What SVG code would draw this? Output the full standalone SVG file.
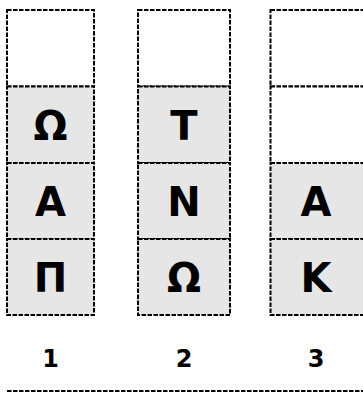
<svg xmlns="http://www.w3.org/2000/svg" width="363" height="396" viewBox="0 0 363 396">
<style>
.cell{stroke:#000;stroke-width:2;stroke-dasharray:4.5 1.5}
.full{fill:#e6e6e6}
.empty{fill:#fff}
.ch{font-family:"DejaVu Sans",sans-serif;font-weight:bold;font-size:40px;text-anchor:middle;fill:#000}
.lb{font-family:"DejaVu Sans",sans-serif;font-weight:bold;font-size:24px;text-anchor:middle;fill:#000}
</style>
<rect width="363" height="396" fill="#fff"/>
<g id="stack1">
<rect class="cell empty" x="7" y="10" width="87" height="76.5"/>
<rect class="cell full" x="7" y="86.5" width="87" height="76.5"/>
<rect class="cell full" x="7" y="163" width="87" height="76"/>
<rect class="cell full" x="7" y="239" width="87" height="76"/>
<text class="ch" x="50.5" y="140">Ω</text>
<text class="ch" x="50.5" y="216">Α</text>
<text class="ch" x="50.5" y="292">Π</text>
<text class="lb" x="50.5" y="367">1</text>
</g>
<g id="stack2">
<rect class="cell empty" x="138" y="10" width="92" height="76.5"/>
<rect class="cell full" x="138" y="86.5" width="92" height="76.5"/>
<rect class="cell full" x="138" y="163" width="92" height="76"/>
<rect class="cell full" x="138" y="239" width="92" height="76"/>
<text class="ch" x="184" y="140">Τ</text>
<text class="ch" x="184" y="216">Ν</text>
<text class="ch" x="184" y="292">Ω</text>
<text class="lb" x="184" y="367">2</text>
</g>
<g id="stack3">
<rect class="cell empty" x="270.5" y="10" width="96" height="76.5"/>
<rect class="cell empty" x="270.5" y="86.5" width="96" height="76.5"/>
<rect class="cell full" x="270.5" y="163" width="96" height="76"/>
<rect class="cell full" x="270.5" y="239" width="96" height="76"/>
<text class="ch" x="316" y="216">Α</text>
<text class="ch" x="316" y="292">Κ</text>
<text class="lb" x="316" y="367">3</text>
</g>
<g id="connectors">
<line class="cell" x1="7" y1="391" x2="363" y2="391"/>
</g>
</svg>
